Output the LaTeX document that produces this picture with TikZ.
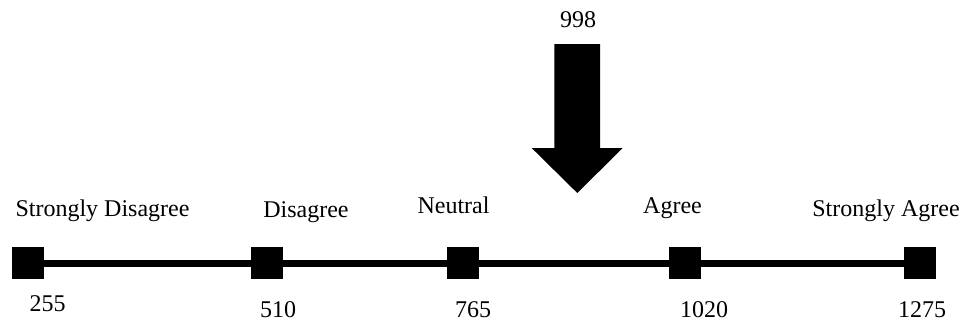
\documentclass[tikz,border=0pt]{standalone}
\usepackage{fontspec}
\setmainfont{Liberation Serif}
\begin{document}
\begin{tikzpicture}[x=1pt,y=-1pt,
  mark box/.style={fill=black,draw=none,minimum size=32pt,inner sep=0pt,outer sep=0pt},
  lbl/.style={anchor=base,inner sep=0pt,font=\fontsize{24}{27}\selectfont},
  axis line/.style={line width=7pt}]
\useasboundingbox (0,0) rectangle (964,325);
% squares
\node[mark box] (s1) at (28,263) {};
\node[mark box] (s2) at (266.5,263) {};
\node[mark box] (s3) at (463,263) {};
\node[mark box] (s4) at (685,263) {};
\node[mark box] (s5) at (919.5,263) {};
% connecting line
\draw[axis line] (s1) -- (s2);
\draw[axis line] (s2) -- (s3);
\draw[axis line] (s3) -- (s4);
\draw[axis line] (s4) -- (s5);
% category labels
\node[lbl] (t1) at (102.5,216) {Strongly Disagree};
\node[lbl] (t2) at (306,217) {Disagree};
\node[lbl] (t3) at (453.5,213) {Neutral};
\node[lbl] (t4) at (672.5,213) {Agree};
\node[lbl] (t5) at (886,216) {Strongly Agree};
% values
\node[lbl] (v1) at (47.5,311.7) {255};
\node[lbl] (v2) at (278,317) {510};
\node[lbl] (v3) at (473,317) {765};
\node[lbl] (v4) at (704,317) {1020};
\node[lbl] (v5) at (922,317) {1275};
% big arrow
\fill[black] (554.3,44) -- (600,44) -- (600,148) -- (622.7,148) -- (577.3,193)
  -- (531.7,148) -- (554.3,148) -- cycle;
\node[lbl] (val) at (578,27) {998};
\end{tikzpicture}
\end{document}
